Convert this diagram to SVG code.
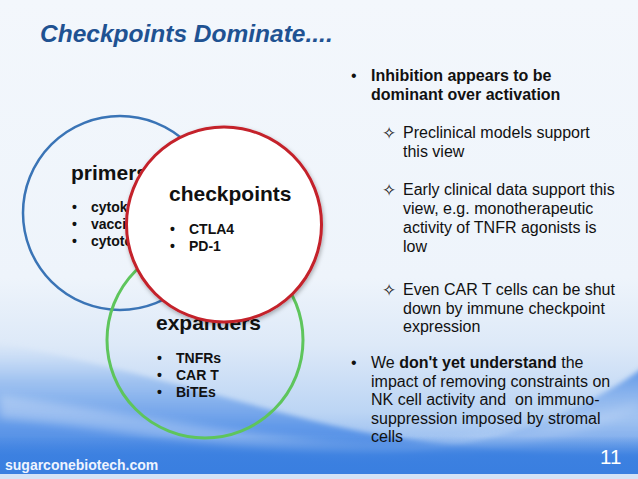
<svg xmlns="http://www.w3.org/2000/svg" width="638" height="479" viewBox="0 0 638 479">
<defs>
<linearGradient id="bg" gradientUnits="userSpaceOnUse" x1="0" y1="0" x2="0" y2="479">
<stop offset="0" stop-color="#f3f7fc"/>
<stop offset="0.58" stop-color="#eef4fb"/>
<stop offset="0.72" stop-color="#dde9f8"/>
<stop offset="0.86" stop-color="#bcd5f4"/>
<stop offset="0.96" stop-color="#86b1ee"/>
<stop offset="1" stop-color="#6fa2ec"/>
</linearGradient>
<linearGradient id="sw1" gradientUnits="userSpaceOnUse" x1="0" y1="340" x2="0" y2="475">
<stop offset="0" stop-color="#c4daf6" stop-opacity="0"/>
<stop offset="0.3" stop-color="#9cc0f0" stop-opacity="0.9"/>
<stop offset="0.65" stop-color="#6098e8"/>
<stop offset="1" stop-color="#3a7fe0"/>
</linearGradient>
<linearGradient id="sw3" gradientUnits="userSpaceOnUse" x1="0" y1="365" x2="0" y2="475">
<stop offset="0" stop-color="#3f82e2" stop-opacity="0.85"/>
<stop offset="0.5" stop-color="#7aa9ec" stop-opacity="0.35"/>
<stop offset="1" stop-color="#3a7fe0" stop-opacity="0.6"/>
</linearGradient>
<linearGradient id="bb" gradientUnits="userSpaceOnUse" x1="0" y1="436" x2="0" y2="474">
<stop offset="0" stop-color="#3a7fe0" stop-opacity="0"/>
<stop offset="0.5" stop-color="#3a7fe0" stop-opacity="0.85"/>
<stop offset="1" stop-color="#3a7fe0"/>
</linearGradient>
<filter id="sh" x="-20%" y="-20%" width="140%" height="140%">
<feDropShadow dx="1" dy="2" stdDeviation="2" flood-color="#000" flood-opacity="0.3"/>
</filter>
<filter id="bl"><feGaussianBlur stdDeviation="4"/></filter>
<filter id="bs" x="-10%" y="-10%" width="120%" height="120%"><feGaussianBlur stdDeviation="2.5"/></filter>
</defs>
<style>
.t{font-family:"Liberation Sans",Arial,sans-serif;fill:#111}
.b{font-weight:bold}
.h{font-size:21px;font-weight:bold}
.s{font-size:14px;font-weight:bold}
.r{font-size:16px}
.m{font-family:"DejaVu Sans",sans-serif;font-size:17px}
</style>
<rect x="0" y="0" width="638" height="479" fill="url(#bg)"/>
<path d="M-20,340 C100,360 220,398 330,425 C420,446 540,458 660,456 L660,500 L-20,500 Z" fill="url(#sw1)" filter="url(#bs)"/>
<path d="M0,395 C110,410 220,432 330,442 C450,450 560,432 638,398 L638,410 C560,446 450,462 330,456 C220,450 110,428 0,418 Z" fill="#ffffff" opacity="0.28" filter="url(#bl)"/>
<path d="M360,458 C470,452 580,420 660,355 L660,500 L360,500 Z" fill="url(#sw3)" filter="url(#bs)"/>
<rect x="0" y="436" width="638" height="38" fill="url(#bb)"/>
<rect x="0" y="474" width="638" height="5" fill="#d4e3f6"/>

<text class="t" x="40" y="42" style="font-size:24.5px;font-weight:bold;font-style:italic;fill:#1f5292">Checkpoints Dominate....</text>

<g id="primers">
<circle cx="120" cy="213" r="97" fill="none" stroke="#3a74b6" stroke-width="2.5"/>
<text class="t h" x="71" y="180">primers</text>
<text class="t s" x="72" y="212">•</text><text class="t s" x="91" y="212">cytoki</text>
<text class="t s" x="72" y="229">•</text><text class="t s" x="91" y="229">vacci</text>
<text class="t s" x="72" y="246">•</text><text class="t s" x="91" y="246">cytoto</text>
</g>

<g id="expanders">
<circle cx="205" cy="340" r="98" fill="none" stroke="#5ec55c" stroke-width="3"/>
<text class="t h" x="156" y="330">expanders</text>
<text class="t s" x="157" y="363">•</text><text class="t s" x="176" y="363">TNFRs</text>
<text class="t s" x="157" y="380">•</text><text class="t s" x="176" y="380">CAR T</text>
<text class="t s" x="157" y="397">•</text><text class="t s" x="176" y="397">BiTEs</text>
</g>

<g id="checkpoints">
<circle cx="224" cy="224.5" r="97.5" fill="#ffffff" stroke="#c4202b" stroke-width="3" filter="url(#sh)"/>
<text class="t h" x="169" y="201">checkpoints</text>
<text class="t s" x="170" y="234">•</text><text class="t s" x="189" y="234">CTLA4</text>
<text class="t s" x="170" y="251">•</text><text class="t s" x="189" y="251">PD-1</text>
</g>

<g id="connectors"></g>

<g id="notes" class="t r">
<text x="351" y="81">•</text>
<text class="b" x="371" y="81">Inhibition appears to be</text>
<text class="b" x="371" y="100">dominant over activation</text>
<text class="m" x="382" y="139">✧</text>
<text x="403" y="138">Preclinical models support</text>
<text x="403" y="157">this view</text>
<text class="m" x="382" y="196">✧</text>
<text x="403" y="195">Early clinical data support this</text>
<text x="403" y="214">view, e.g. monotherapeutic</text>
<text x="403" y="233">activity of TNFR agonists is</text>
<text x="403" y="252">low</text>
<text class="m" x="382" y="296">✧</text>
<text x="403" y="295">Even CAR T cells can be shut</text>
<text x="403" y="313.5">down by immune checkpoint</text>
<text x="403" y="332">expression</text>
<text x="351" y="368">•</text>
<text x="371" y="368">We <tspan class="b">don't yet understand</tspan> the</text>
<text x="371" y="386.5">impact of removing constraints on</text>
<text x="371" y="405" xml:space="preserve">NK cell activity and  on immuno-</text>
<text x="371" y="423.5">suppression imposed by stromal</text>
<text x="371" y="442">cells</text>
</g>

<text class="t b" x="5" y="470" style="font-size:14px;fill:#eef4ff">sugarconebiotech.com</text>
<text class="t" x="600" y="464" style="font-size:20.5px;fill:#ffffff">11</text>
</svg>
